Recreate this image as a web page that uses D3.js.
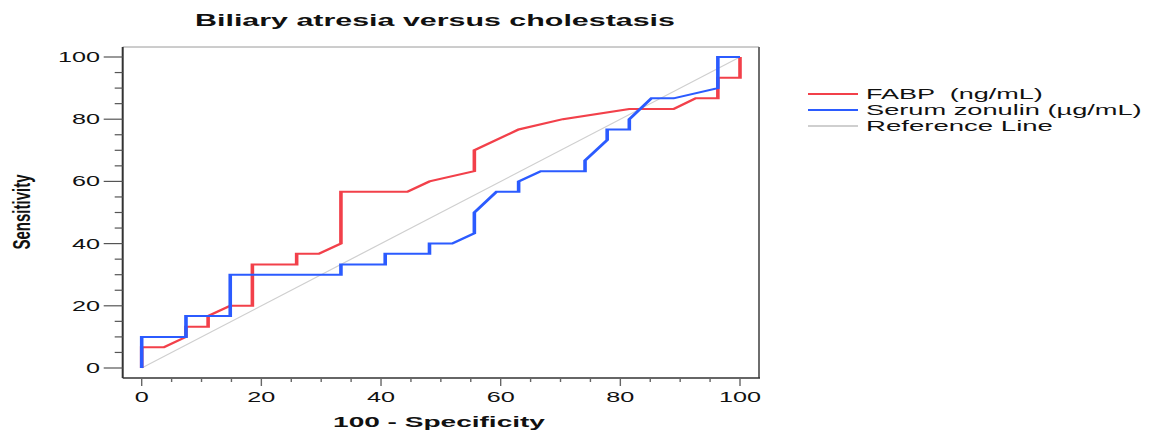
<!DOCTYPE html>
<html>
<head>
<meta charset="utf-8">
<script src="https://cdn.jsdelivr.net/npm/d3@7"></script>
<style>
  body { margin: 0; background: #fff; }
  text { font-family: Arial, "Liberation Sans", sans-serif; fill: #111; }
</style>
</head>
<body>
<svg id="chart" width="1151" height="432"></svg>
<script>
// ROC data (100 - specificity, sensitivity), in %
const fabpX = [0, 0, 3.7, 7.4, 7.4, 11.1, 11.1, 14.8, 18.5, 18.5, 25.9, 25.9, 29.6, 33.3, 33.3, 44.4, 48.1, 55.6, 55.6, 63.0, 70.4, 81.5, 88.9, 92.6, 96.3, 96.3, 100, 100];
const fabpY = [0, 6.7, 6.7, 10, 13.3, 13.3, 16.7, 20, 20, 33.3, 33.3, 36.7, 36.7, 40, 56.7, 56.7, 60, 63.3, 70, 76.7, 80, 83.3, 83.3, 86.7, 86.7, 93.3, 93.3, 100];

const zonulinX = [0, 0, 7.4, 7.4, 14.8, 14.8, 33.3, 33.3, 40.7, 40.7, 48.1, 48.1, 51.9, 55.6, 55.6, 59.3, 63.0, 63.0, 66.7, 74.1, 74.1, 77.8, 77.8, 81.5, 81.5, 85.2, 88.9, 96.3, 96.3, 100];
const zonulinY = [0, 10, 10, 16.7, 16.7, 30, 30, 33.3, 33.3, 36.7, 36.7, 40, 40, 43.3, 50, 56.7, 56.7, 60, 63.3, 63.3, 66.7, 73.3, 76.7, 76.7, 80, 86.7, 86.7, 90, 100, 100];

const refX = [0, 100];
const refY = [0, 100];

const tickVals = [0, 20, 40, 60, 80, 100];
const minorVals = d3.range(0, 101, 5);

const seriesNames = ["FABP  (ng/mL)", "Serum zonulin (\u00b5g/mL)", "Reference Line"];
const seriesColors = ["#f2404a", "#2b5bff", "#cfcfcf"];

const svg = d3.select("#chart");
const stretch = 1.8; // the original picture is stretched sideways

const x = d3.scaleLinear().domain([0, 100]).range([141.7, 740]);
const y = d3.scaleLinear().domain([0, 100]).range([368, 57]);
const box = { left: 122.7, right: 759, top: 47, bottom: 378 };

// fit a text to a given width by squeezing it sideways
function fitText(t, w) {
  const len = t.node().getComputedTextLength();
  const s = w / len;
  const tr = t.attr("transform") || "";
  t.attr("transform", tr.replace("SX", s));
}

// frame
svg.append("line").attr("x1", box.left).attr("x2", box.right).attr("y1", box.top).attr("y2", box.top)
  .attr("stroke", "#9a9a9a").attr("stroke-width", 1);
svg.append("line").attr("x1", box.right).attr("x2", box.right).attr("y1", box.top).attr("y2", box.bottom)
  .attr("stroke", "#6e6e6e").attr("stroke-width", 2);
svg.append("line").attr("x1", box.left).attr("x2", box.right + 1).attr("y1", box.bottom).attr("y2", box.bottom)
  .attr("stroke", "#333").attr("stroke-width", 1.6);
svg.append("line").attr("x1", box.left).attr("x2", box.left).attr("y1", box.top).attr("y2", box.bottom)
  .attr("stroke", "#333").attr("stroke-width", 2);

// y ticks
svg.append("g").selectAll("line").data(minorVals).enter().append("line")
  .attr("x1", d => box.left - (d % 20 === 0 ? 19 : 8))
  .attr("x2", box.left)
  .attr("y1", d => y(d)).attr("y2", d => y(d))
  .attr("stroke", "#555").attr("stroke-width", 1.2);

svg.append("g").selectAll("text").data(tickVals).enter().append("text")
  .attr("transform", d => `translate(100,${y(d) + 5}) scale(1.8,1)`)
  .attr("text-anchor", "end")
  .attr("font-size", "14px")
  .attr("fill", "#222")
  .text(d => d);

// x ticks
svg.append("g").selectAll("line").data(minorVals).enter().append("line")
  .attr("x1", d => x(d)).attr("x2", d => x(d))
  .attr("y1", box.bottom + 1)
  .attr("y2", d => box.bottom + (d % 20 === 0 ? 8 : 4))
  .attr("stroke", "#666").attr("stroke-width", 1.4);

svg.append("g").selectAll("text").data(tickVals).enter().append("text")
  .attr("transform", d => `translate(${x(d)},402) scale(1.8,1)`)
  .attr("text-anchor", "middle")
  .attr("font-size", "14px")
  .attr("fill", "#222")
  .text(d => d);

// reference line
const refLine = d3.line().x(d => x(d[0])).y(d => y(d[1]));
svg.append("path")
  .datum(d3.zip(refX, refY))
  .attr("d", refLine)
  .attr("fill", "none")
  .attr("stroke", seriesColors[2])
  .attr("stroke-width", 1.2);

// ROC curves, drawn in an unstretched frame then stretched like the picture
const xs = d3.scaleLinear().domain([0, 100]).range([141.7 / stretch, 740 / stretch]);
const curve = d3.line().x(d => xs(d[0])).y(d => y(d[1]));
const curves = svg.append("g").attr("transform", `scale(${stretch},1)`);

curves.append("path")
  .datum(d3.zip(fabpX, fabpY))
  .attr("d", curve)
  .attr("fill", "none")
  .attr("stroke", seriesColors[0])
  .attr("stroke-width", 2)
  .attr("stroke-linejoin", "miter");

curves.append("path")
  .datum(d3.zip(zonulinX, zonulinY))
  .attr("d", curve)
  .attr("fill", "none")
  .attr("stroke", seriesColors[1])
  .attr("stroke-width", 2)
  .attr("stroke-linejoin", "miter");

// title and axis titles
const title = svg.append("text")
  .attr("transform", "translate(435,26) scale(SX,1)")
  .attr("text-anchor", "middle")
  .attr("font-size", "17px")
  .attr("font-weight", "bold")
  .text("Biliary atresia versus cholestasis");
fitText(title, 480);

const xTitle = svg.append("text")
  .attr("transform", "translate(439,427) scale(SX,1)")
  .attr("text-anchor", "middle")
  .attr("font-size", "14px")
  .attr("font-weight", "bold")
  .text("100 - Specificity");
fitText(xTitle, 212);

svg.append("text")
  .attr("transform", "translate(30,212) scale(1.6,1) rotate(-90)")
  .attr("text-anchor", "middle")
  .attr("font-size", "15px")
  .attr("font-weight", "bold")
  .text("Sensitivity");

// legend
const legendY = [94, 110, 126];
const legendW = [177, 276, 187];
const legend = svg.append("g");
seriesNames.forEach((name, i) => {
  legend.append("line")
    .attr("x1", 808).attr("x2", 858)
    .attr("y1", legendY[i]).attr("y2", legendY[i])
    .attr("stroke", seriesColors[i])
    .attr("stroke-width", 2);
  const t = legend.append("text")
    .attr("transform", `translate(866,${legendY[i] + 4.5}) scale(SX,1)`)
    .attr("font-size", "14px")
    .attr("fill", "#222")
    .style("white-space", "pre")
    .text(name);
  fitText(t, legendW[i]);
});
</script>
</body>
</html>
